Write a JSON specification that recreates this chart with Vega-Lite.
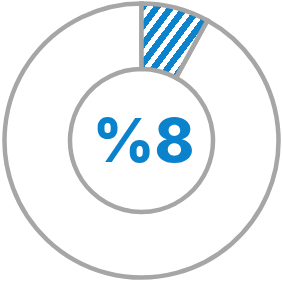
{
  "$schema": "https://vega.github.io/schema/vega-lite/v6.json",
  "width": 283,
  "height": 281,
  "padding": 0,
  "autosize": "none",
  "background": "white",
  "view": {"stroke": null},
  "data": {"values": [
    {"segment": "share", "start": 0, "end": 8, "label": "%8"},
    {"segment": "rest", "start": 8, "end": 100, "label": ""}
  ]},
  "layer": [
    {
      "transform": [{"filter": "datum.segment === 'rest'"}],
      "mark": {"type": "arc", "outerRadius": 137, "innerRadius": 71.5, "fill": "white", "stroke": "#a6a6a6", "strokeWidth": 4.5},
      "encoding": {
        "theta": {"field": "start", "type": "quantitative", "scale": {"domain": [0, 100]}},
        "theta2": {"field": "end"}
      }
    },
    {
      "transform": [{"filter": "datum.segment === 'share'"}],
      "mark": {
        "type": "arc", "outerRadius": 137, "innerRadius": 71.5, "stroke": "#a6a6a6", "strokeWidth": 4.5,
        "fill": {
          "gradient": "linear", "x1": 0, "y1": 0, "x2": 1, "y2": 0.85,
          "stops": [
            {"offset": 0, "color": "#0a82cc"}, {"offset": 0.07, "color": "#0a82cc"},
            {"offset": 0.07, "color": "#ffffff"}, {"offset": 0.125, "color": "#ffffff"},
            {"offset": 0.125, "color": "#0a82cc"}, {"offset": 0.195, "color": "#0a82cc"},
            {"offset": 0.195, "color": "#ffffff"}, {"offset": 0.25, "color": "#ffffff"},
            {"offset": 0.25, "color": "#0a82cc"}, {"offset": 0.32, "color": "#0a82cc"},
            {"offset": 0.32, "color": "#ffffff"}, {"offset": 0.375, "color": "#ffffff"},
            {"offset": 0.375, "color": "#0a82cc"}, {"offset": 0.445, "color": "#0a82cc"},
            {"offset": 0.445, "color": "#ffffff"}, {"offset": 0.5, "color": "#ffffff"},
            {"offset": 0.5, "color": "#0a82cc"}, {"offset": 0.57, "color": "#0a82cc"},
            {"offset": 0.57, "color": "#ffffff"}, {"offset": 0.625, "color": "#ffffff"},
            {"offset": 0.625, "color": "#0a82cc"}, {"offset": 0.695, "color": "#0a82cc"},
            {"offset": 0.695, "color": "#ffffff"}, {"offset": 0.75, "color": "#ffffff"},
            {"offset": 0.75, "color": "#0a82cc"}, {"offset": 0.82, "color": "#0a82cc"},
            {"offset": 0.82, "color": "#ffffff"}, {"offset": 0.875, "color": "#ffffff"},
            {"offset": 0.875, "color": "#0a82cc"}, {"offset": 0.945, "color": "#0a82cc"},
            {"offset": 0.945, "color": "#ffffff"}, {"offset": 1, "color": "#ffffff"}
          ]
        }
      },
      "encoding": {
        "theta": {"field": "start", "type": "quantitative", "scale": {"domain": [0, 100]}},
        "theta2": {"field": "end"}
      }
    },
    {
      "transform": [{"filter": "datum.segment === 'share'"}],
      "mark": {"type": "text", "font": "Inter", "fontWeight": 800, "fontSize": 60, "color": "#0a82cc", "align": "center", "baseline": "middle", "dx": 2, "dy": 3},
      "encoding": {"text": {"field": "label"}}
    }
  ]
}
